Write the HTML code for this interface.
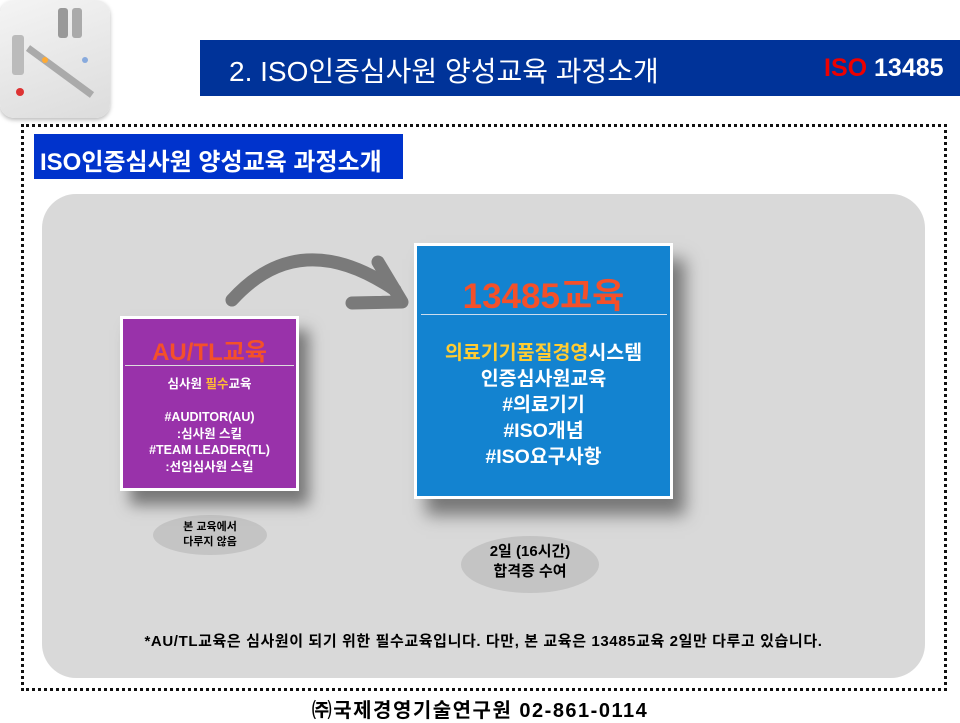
<!DOCTYPE html>
<html><head><meta charset="utf-8"><style>
*{margin:0;padding:0;box-sizing:border-box}
body{width:960px;height:720px;background:#fff;position:relative;overflow:hidden;font-family:"Liberation Sans","Noto Sans CJK KR",sans-serif;font-weight:bold}
.a{position:absolute}
.c{text-align:center;white-space:nowrap}
</style></head><body>
<div class="a" style="left:0;top:0;width:110px;height:118px;border-radius:14px;background:linear-gradient(160deg,#f4f4f4,#dcdcdc);box-shadow:0 2px 4px #bbb">
<svg width="110" height="118"><rect x="58" y="8" width="10" height="30" fill="#999" rx="3"/><rect x="72" y="8" width="10" height="30" fill="#aaa" rx="3"/><rect x="12" y="35" width="12" height="40" fill="#bbb" rx="3"/><line x1="28" y1="48" x2="92" y2="95" stroke="#aaa" stroke-width="7"/><circle cx="20" cy="92" r="4" fill="#d33"/><circle cx="45" cy="60" r="3" fill="#fa3"/><circle cx="85" cy="60" r="3" fill="#8ad"/></svg></div>
<div class="a" style="left:200px;top:40px;width:760px;height:56px;background:#003399"></div>
<div class="a" style="left:229px;top:50px;color:#fff;font-size:28px;font-weight:normal;white-space:nowrap">2. ISO인증심사원 양성교육 과정소개</div>
<div class="a" style="left:824px;top:54px;font-size:25px;color:#fff;white-space:nowrap"><span style="color:#e00">ISO</span> 13485</div>
<div class="a" style="left:21px;top:124px;width:926px;height:567px;border:3px dotted #111"></div>
<div class="a" style="left:34px;top:134px;width:369px;height:45px;background:#0033cc"></div>
<div class="a" style="left:40px;top:142px;color:#fff;font-size:24px;white-space:nowrap">ISO인증심사원 양성교육 과정소개</div>
<div class="a" style="left:42px;top:194px;width:883px;height:484px;border-radius:34px;background:#d9d9d9"></div>
<svg class="a" style="left:0;top:0" width="960" height="720"><path d="M232 300 Q300 225 395 290" fill="none" stroke="#7a7a7a" stroke-width="13" stroke-linecap="round"/><path d="M378 262 L402 302 L352 303" fill="none" stroke="#7a7a7a" stroke-width="13" stroke-linecap="round" stroke-linejoin="round"/></svg>
<div class="a" style="left:153px;top:515px;width:114px;height:40px;border-radius:50%;background:#c4c4c4"></div>
<div class="a c" style="left:153px;top:520px;width:114px;font-size:11px;line-height:15px">본 교육에서<br>다루지 않음</div>
<div class="a" style="left:461px;top:536px;width:138px;height:57px;border-radius:50%;background:#c4c4c4"></div>
<div class="a c" style="left:461px;top:542px;width:138px;font-size:15px;line-height:20px">2일 (16시간)<br>합격증 수여</div>
<div class="a" style="left:120px;top:316px;width:179px;height:175px;background:#9932aa;border:3px solid #fff;box-shadow:10px 14px 14px #777"></div>
<div class="a" style="left:125px;top:365px;width:169px;height:1px;background:#ddd"></div>
<div class="a c" style="left:120px;top:332px;width:179px;color:#f4502a;font-size:24px">AU/TL교육</div>
<div class="a c" style="left:120px;top:376px;width:179px;color:#fff;font-size:12.5px;line-height:16.5px">심사원 <span style="color:#fb3">필수</span>교육<br><br>#AUDITOR(AU)<br>:심사원 스킬<br>#TEAM LEADER(TL)<br>:선임심사원 스킬</div>
<div class="a" style="left:414px;top:243px;width:259px;height:256px;background:#1383d0;border:3px solid #fff;box-shadow:12px 16px 16px #777"></div>
<div class="a" style="left:421px;top:314px;width:246px;height:1px;background:#cde"></div>
<div class="a c" style="left:414px;top:268px;width:259px;color:#f4502a;font-size:35px">13485교육</div>
<div class="a c" style="left:414px;top:340px;width:259px;color:#fff;font-size:19.5px;line-height:26px"><span style="color:#fc3">의료기기품질경영</span>시스템<br>인증심사원교육<br>#의료기기<br>#ISO개념<br>#ISO요구사항</div>
<div class="a c" style="left:42px;top:630px;width:883px;font-size:15px;letter-spacing:0.6px">*AU/TL교육은 심사원이 되기 위한 필수교육입니다. 다만, 본 교육은 13485교육 2일만 다루고 있습니다.</div>
<div class="a c" style="left:0;top:694px;width:960px;font-size:20px;letter-spacing:1.5px">㈜국제경영기술연구원 02-861-0114</div>
</body></html>
